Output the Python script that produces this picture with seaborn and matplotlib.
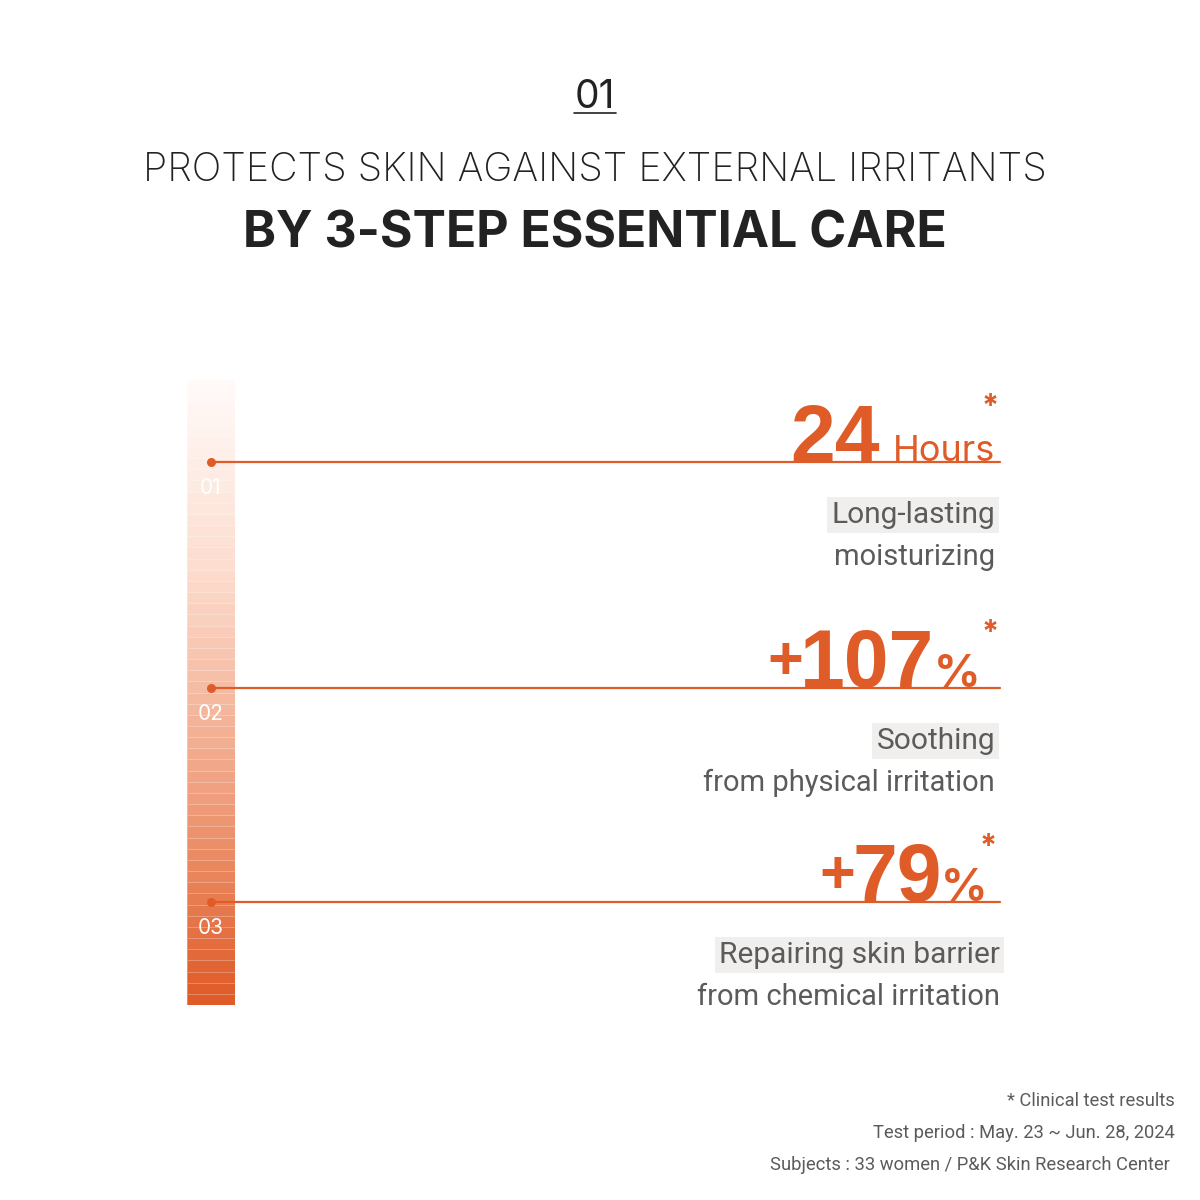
import numpy as np
import matplotlib
matplotlib.use("Agg")
import matplotlib.pyplot as plt
import seaborn as sns
from matplotlib.colors import LinearSegmentedColormap

# 数据
step_labels = ["01", "02", "03"]
big_signs = ["", "+", "+"]
big_values = ["24", "107", "79"]
units = ["Hours", "%", "%"]
desc_main = ["Long-lasting", "Soothing", "Repairing skin barrier"]
desc_sub = ["moisturizing", "from physical irritation", "from chemical irritation"]
section_no = "01"
title_light = "PROTECTS SKIN AGAINST EXTERNAL IRRITANTS"
title_bold = "BY 3-STEP ESSENTIAL CARE"
notes = ["* Clinical test results",
         "Test period : May. 23 ~ Jun. 28, 2024",
         "Subjects : 33 women / P&K Skin Research Center"]

ORANGE = "#DF5B27"
GREY = "#5B5B5B"
BODY_FONT = ['Roboto', 'DejaVu Sans']
NUM_FONT = ['Liberation Sans', 'DejaVu Sans']

sns.set_theme(style="white")
plt.rcParams['font.family'] = ['Inter', 'DejaVu Sans']

fig = plt.figure(figsize=(12, 12), dpi=100)
fig.patch.set_facecolor("white")

# 渐变条 (heatmap)
n_bands = 56
bands = np.linspace(0, 1, n_bands).reshape(-1, 1)
cmap = LinearSegmentedColormap.from_list(
    "grad", [(0, "#FFFAF8"), (0.3, "#FCDCCE"), (0.65, "#F0A282"), (1, "#DF5B27")])
hax = fig.add_axes([187 / 1200, (1200 - 1005) / 1200, 48 / 1200, 625 / 1200])
sns.heatmap(bands, cmap=cmap, cbar=False, vmin=0, vmax=1,
            linewidths=0.7, linecolor=(1, 1, 1, 0.28),
            xticklabels=False, yticklabels=False, ax=hax)
hax.axis('off')

# 像素坐标覆盖层
ax = fig.add_axes([0, 0, 1, 1])
ax.set_xlim(0, 1200)
ax.set_ylim(1200, 0)
ax.axis('off')
ax.patch.set_alpha(0)

# 标题
ax.text(595, 108, section_no, ha='center', va='baseline', fontsize=28, color="#222222")
ax.plot([574, 616], [113, 113], color="#222222", lw=1.2)
ax.text(595, 181, title_light, ha='center', va='baseline', fontsize=28.3,
        fontweight='light', color="#222222")
ax.text(595, 248, title_bold, ha='center', va='baseline', fontsize=36,
        fontweight='bold', color="#222222")

fig.canvas.draw()
renderer = fig.canvas.get_renderer()
inv = ax.transData.inverted()


def left_of(t):
    bb = t.get_window_extent(renderer)
    return inv.transform((bb.x0, bb.y0))[0]


line_y = [462, 688, 902]
right_x = [995, 980, 987]
star_x = [990, 990, 988]
for i in range(3):
    y = line_y[i]
    ax.plot([211, 1000], [y, y], color=ORANGE, lw=1.6, zorder=3)
    ax.scatter([211], [y], s=30, color=ORANGE, zorder=4)
    ax.text(211, y + 26, step_labels[i], ha='center', va='center', fontsize=15,
            color="white", zorder=5)

    if units[i] == "%":
        u = ax.text(right_x[i], y - 1, units[i], ha='right', va='baseline',
                    fontsize=33, fontweight='bold', color=ORANGE)
        gap = -1
    else:
        u = ax.text(right_x[i], y - 1, units[i], ha='right', va='baseline',
                    fontsize=26, color=ORANGE)
        gap = 13
    ux = left_of(u)
    n = ax.text(ux - gap, y - 1, big_values[i], ha='right', va='baseline',
                fontsize=58, fontweight='bold', color=ORANGE, family=NUM_FONT)
    if big_signs[i]:
        nx = left_of(n)
        ax.text(nx + 3, y - 9, big_signs[i], ha='right', va='baseline',
                fontsize=44, fontweight='bold', color=ORANGE, family=NUM_FONT)
    ax.text(star_x[i], y - 55, "*", ha='center', va='center', fontsize=22,
            fontweight='bold', color=ORANGE)

    mx = 1000 if i == 2 else 995
    ax.text(mx, y + 53, desc_main[i], ha='right', va='center',
            fontsize=21.5, color=GREY, family=BODY_FONT,
            bbox=dict(boxstyle='square,pad=0.15', facecolor='#F0EFED', edgecolor='none'))
    ax.text(mx, y + 95, desc_sub[i], ha='right', va='center',
            fontsize=21, color=GREY, family=BODY_FONT)

# 注释
note_y = [1101, 1133, 1165]
note_x = [1175, 1175, 1170]
for t, yy, xx in zip(notes, note_y, note_x):
    ax.text(xx, yy, t, ha='right', va='center', fontsize=13.2, color=GREY, family=BODY_FONT)

fig.savefig("out.png", dpi=100, facecolor="white")
